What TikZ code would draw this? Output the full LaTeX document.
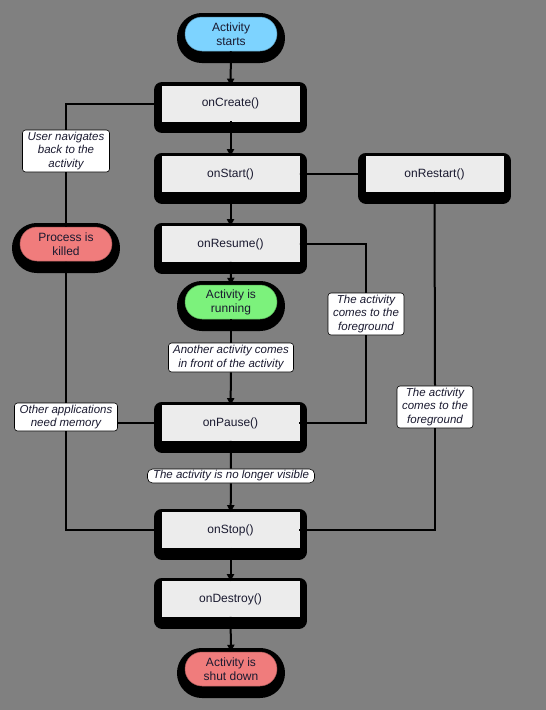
\documentclass[tikz,border=0pt]{standalone}
\usepackage{fontspec}
\setmainfont{Liberation Sans}
\usetikzlibrary{positioning,arrows.meta}
\definecolor{bggray}{HTML}{808080}
\definecolor{startblue}{HTML}{7DD3FF}
\definecolor{rungreen}{HTML}{7CF27C}
\definecolor{stopred}{HTML}{F07C7C}
\definecolor{boxgray}{HTML}{ECECEC}
\definecolor{darktext}{HTML}{1A1A30}

\tikzset{
  blackshadow/.style={preaction={draw=black, fill=black, line width=16pt, line join=round,
      transform canvas={yshift=-4pt}}},
  callbox/.style={blackshadow, fill=boxgray, draw=white!85!gray, line width=0.6pt,
      minimum width=137pt, minimum height=35pt, inner sep=0pt, text=darktext},
  statepill/.style={blackshadow, rounded corners=17pt, draw=#1!70!black, line width=0.5pt,
      fill=#1, minimum width=92pt, minimum height=34pt, inner sep=0pt,
      align=center, text=darktext},
  notelabel/.style={fill=white, draw=black, line width=0.6pt, rounded corners=3pt,
      inner sep=1.5pt, align=center, font=\fontsize{11.5}{13.7}\selectfont\itshape, text=darktext},
  flow/.style={line width=2pt, -{Triangle[length=7pt,width=7pt]}},
  link/.style={line width=2pt}
}

\begin{document}
\begin{tikzpicture}[x=1pt, y=-1pt, font=\fontsize{12}{14}\selectfont]
\useasboundingbox[fill=bggray] (0,0) rectangle (546,710);

% states and callbacks
\node[statepill=startblue] (start) at (231,34) {Activity\\starts};
\node[callbox] (create) at (230.5,103.5) {onCreate()};
\node[callbox] (onstart) at (230.5,174) {onStart()};
\node[callbox] (restart) at (434.5,174) {onRestart()};
\node[callbox] (resume) at (230.5,244) {onResume()};
\node[statepill=rungreen] (running) at (231,302) {Activity is\\running};
\node[callbox] (pause) at (230.5,423) {onPause()};
\node[callbox] (stop) at (230.5,530) {onStop()};
\node[callbox] (destroy) at (230.5,599) {onDestroy()};
\node[statepill=stopred] (shutdown) at (231,669) {Activity is\\shut down};
\node[statepill=stopred] (killed) at (66,244) {Process is\\killed};

% labels on the connectors
\node[notelabel, minimum width=87pt, minimum height=42pt] (navback) at (66,151) {User navigates\\back to the\\activity};
\node[notelabel, minimum width=103pt, minimum height=28pt] (memory) at (66,417) {Other applications\\need memory};
\node[notelabel, minimum width=125pt, minimum height=29pt] (infront) at (231,357.5) {Another activity comes\\in front of the activity};
\node[notelabel, minimum width=76pt, minimum height=42pt] (fgresume) at (366,314) {The activity\\comes to the\\foreground};
\node[notelabel, minimum width=76pt, minimum height=42pt] (fgrestart) at (435,407) {The activity\\comes to the\\foreground};
\node[notelabel, minimum width=167pt, minimum height=14pt, inner sep=0.5pt, rounded corners=5pt] (novisible) at (231,476) {The activity is no longer visible};

% main column
\draw[flow] (start) -- (create);
\draw[flow] (create) -- (onstart);
\draw[flow] (onstart) -- (resume);
\draw[flow] (resume) -- (running);
\draw[link] (running) -- (infront);
\draw[flow] (infront) -- (pause);
\draw[link] (pause) -- (novisible);
\draw[flow] (novisible) -- (stop);
\draw[flow] (stop) -- (destroy);
\draw[flow] (destroy) -- (shutdown);

% back to the foreground
\draw[flow] (restart) -- (onstart);
\draw[link] (pause.east) -| (fgresume.south);
\draw[flow] (fgresume.north) |- (resume.east);
\draw[link] (stop.east) -| (fgrestart.south);
\draw[flow] (fgrestart.north) -- (restart.south);

% process killed
\draw[link] (pause.west) -- (pause.west -| memory.east);
\draw[link] (stop.west) -| (memory.south);
\draw[flow] (memory.north) -- (killed.south);
\draw[link] (killed.north) -- (navback.south);
\draw[flow] (navback.north) |- (create.west);
\end{tikzpicture}
\end{document}
